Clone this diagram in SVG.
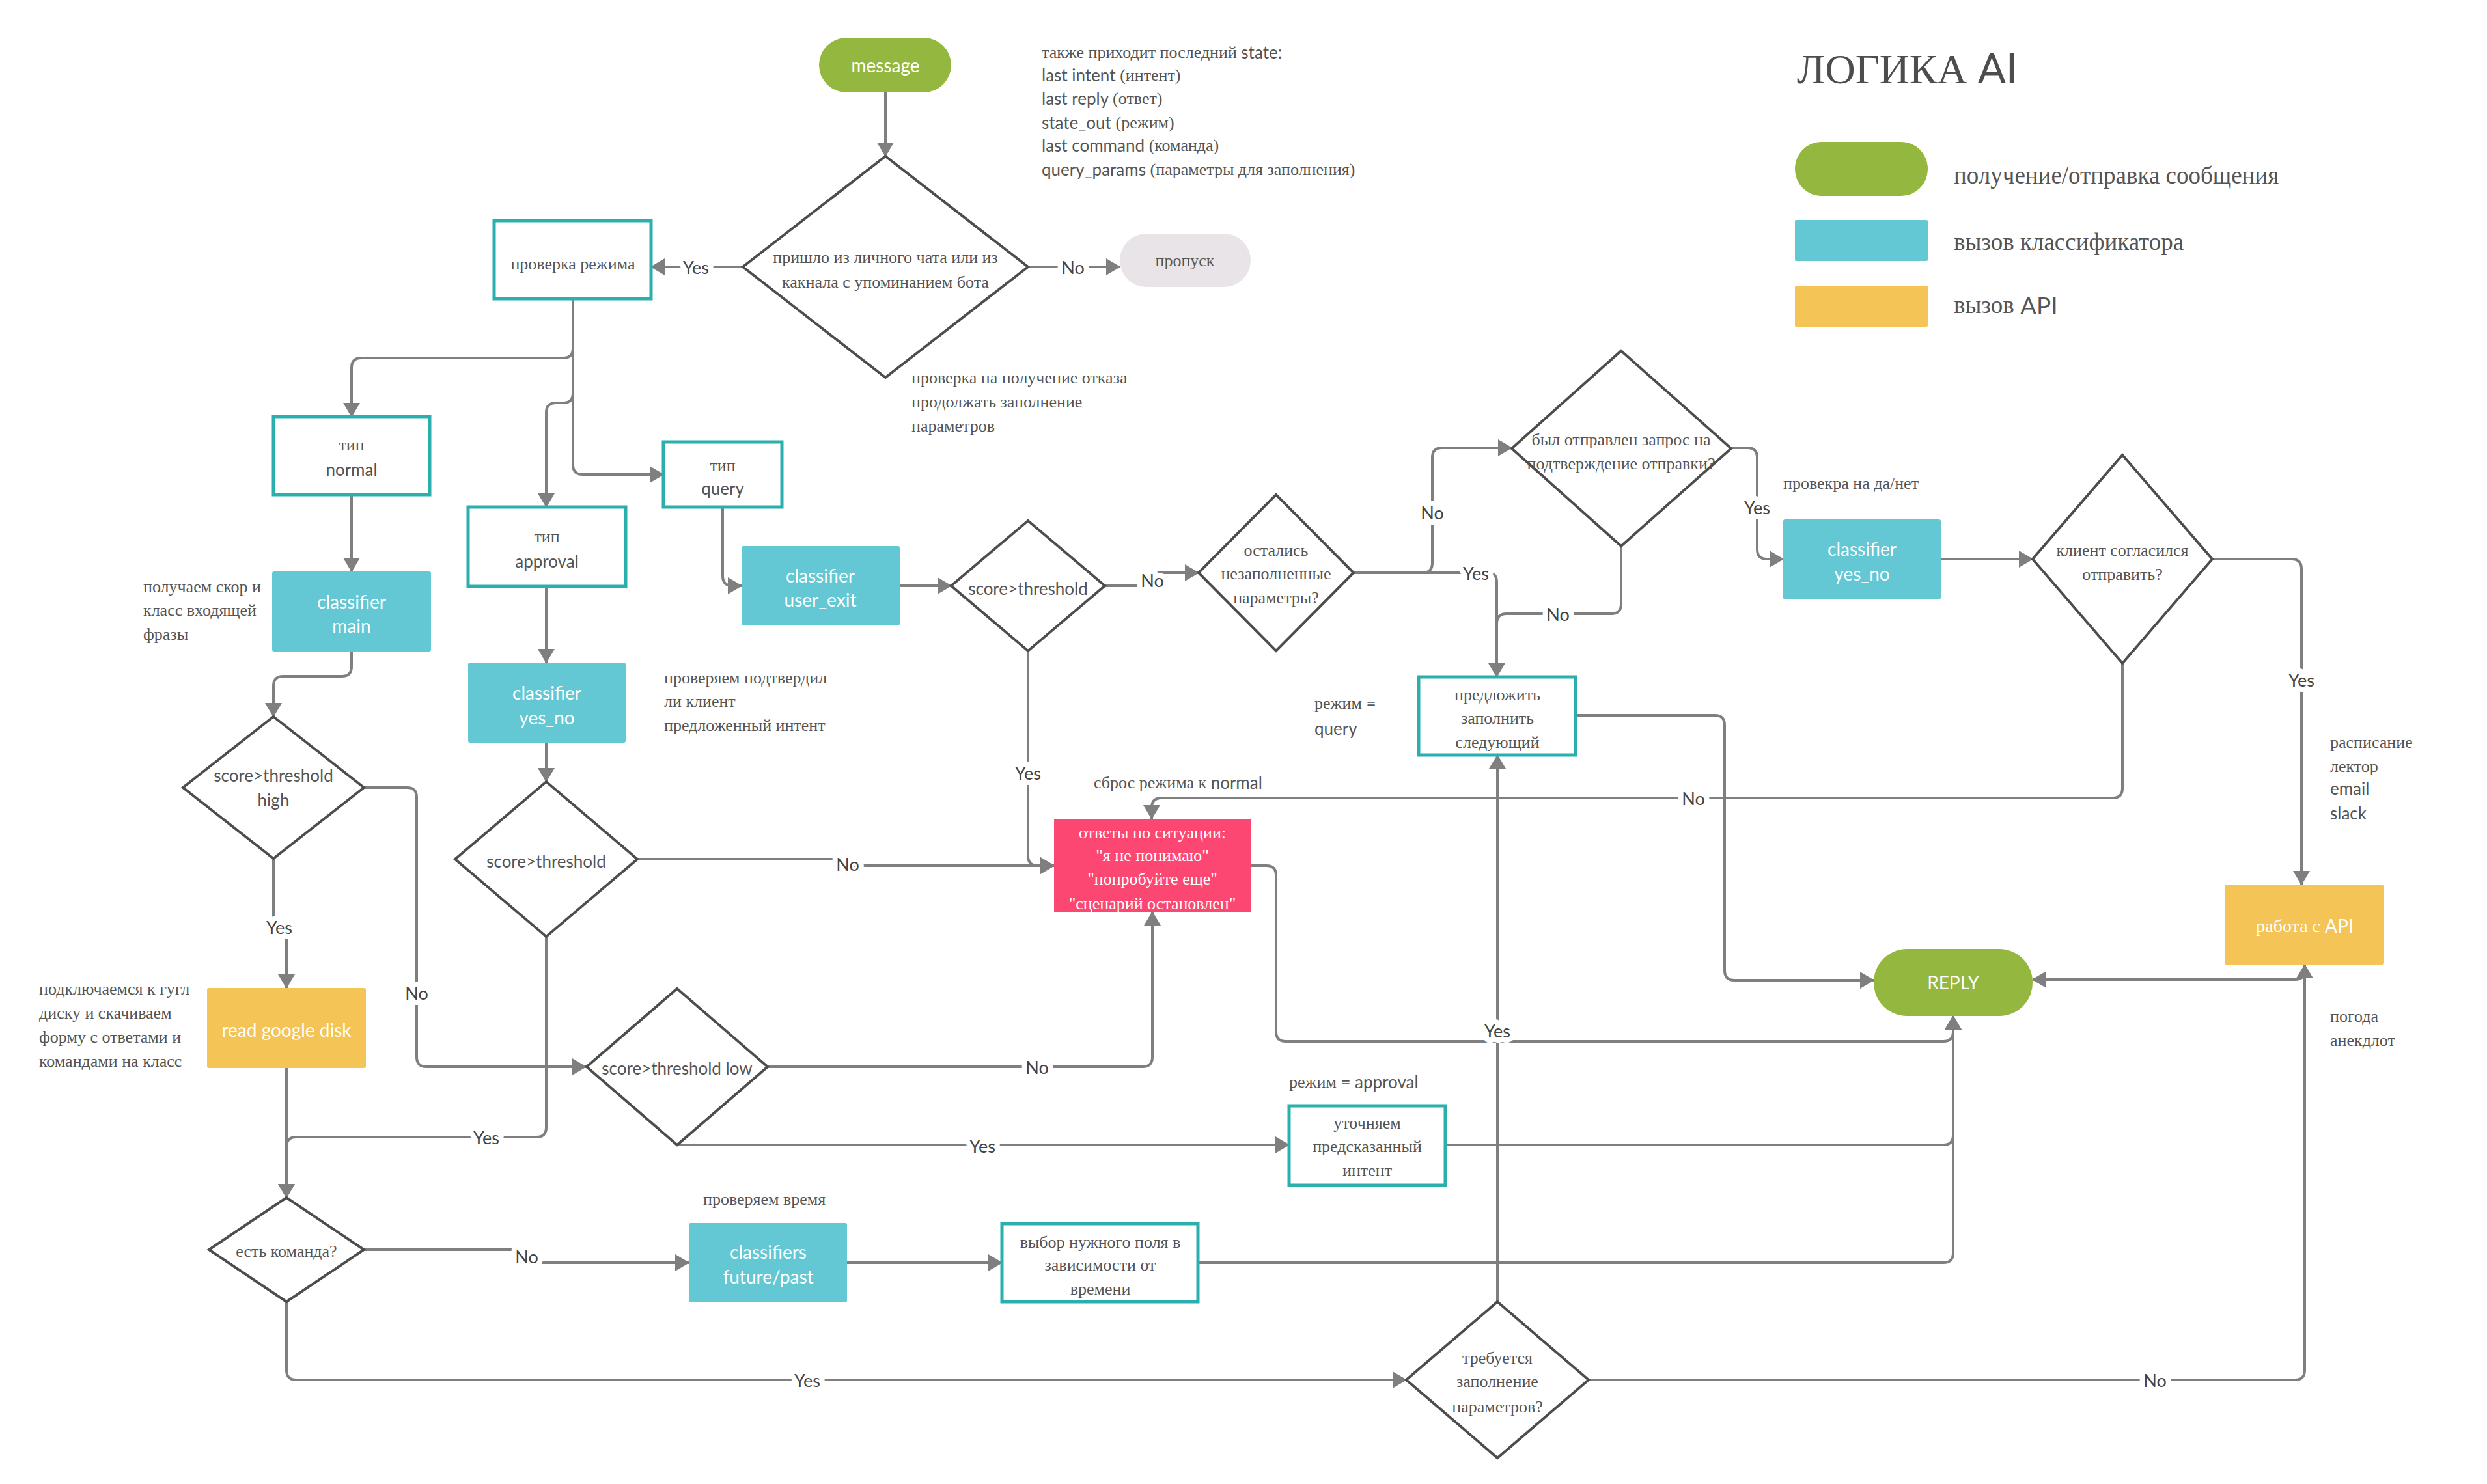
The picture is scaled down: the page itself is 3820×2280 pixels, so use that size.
<svg xmlns="http://www.w3.org/2000/svg" width="3820" height="2280" viewBox="0 0 3820 2280">
<defs>
<style>
.ln{fill:none;stroke:#7f7f7f;stroke-width:4;stroke-linejoin:round}
.ar{marker-end:url(#ah)}
.dia{fill:#fff;stroke:#4d4d4d;stroke-width:4;stroke-linejoin:miter}
.box{fill:#fff;stroke:#2aafad;stroke-width:5}
.cls{fill:#63c8d4}
.api{fill:#f4c456}
.grn{fill:#93b73f}
.red{fill:#fb4771}
.skip{fill:#e8e4e8}
.se{font-family:"Liberation Serif","Times New Roman",serif}
.sa{font-family:Lato,"Liberation Sans",sans-serif}
.t{font-size:26px;fill:#555;text-anchor:middle;dominant-baseline:central}
.tl{font-size:26px;fill:#555;dominant-baseline:central}
.w{font-size:28px;fill:#fff;text-anchor:middle;dominant-baseline:central}
.lbl{font-family:Lato,"Liberation Sans",sans-serif;font-size:27px;fill:#444;text-anchor:middle;dominant-baseline:central;paint-order:stroke;stroke:#fff;stroke-width:16px;stroke-linejoin:round}
.lg{font-size:37px;fill:#555;dominant-baseline:central}
</style>
<marker id="ah" markerUnits="userSpaceOnUse" markerWidth="22" markerHeight="26" refX="21" refY="13" orient="auto">
<path d="M0,0 L22,13 L0,26 z" fill="#7f7f7f"/>
</marker>
</defs>
<rect width="3820" height="2280" fill="#fff"/>

<g id="connectors">
<path class="ln ar" d="M1360,142 V240"/>
<path class="ln ar" d="M1141,410 H1000"/>
<path class="ln ar" d="M1579,410 H1720"/>
<path class="ln ar" d="M880,459 V535 Q880,550 865,550 H555 Q540,550 540,565 V640"/>
<path class="ln ar" d="M880,459 V604 Q880,619 865,619 H854 Q839,619 839,634 V779"/>
<path class="ln ar" d="M880,459 V714 Q880,729 895,729 H1019"/>
<path class="ln ar" d="M540,760 V878"/>
<path class="ln ar" d="M540,1001 V1024 Q540,1039 525,1039 H435 Q420,1039 420,1054 V1101"/>
<path class="ln ar" d="M420,1319 V1418 Q420,1424 426,1424 H434 Q440,1424 440,1430 V1518"/>
<path class="ln ar" d="M558,1210 H625 Q640,1210 640,1225 V1624 Q640,1639 655,1639 H900"/>
<path class="ln ar" d="M839,901 V1018"/>
<path class="ln ar" d="M839,1141 V1201"/>
<path class="ln ar" d="M979,1320 H1300 V1330 H1619"/>
<path class="ln ar" d="M839,1439 V1732 Q839,1747 824,1747 H455 Q440,1747 440,1762 V1840"/>
<path class="ln ar" d="M440,1641 V1840"/>
<path class="ln ar" d="M1110,779 V885 Q1110,900 1125,900 H1139"/>
<path class="ln ar" d="M1382,900 H1461"/>
<path class="ln ar" d="M1698,900 H1770 V880 H1841"/>
<path class="ln ar" d="M1579,999 V1315 Q1579,1330 1594,1330 H1619"/>
<path class="ln ar" d="M2079,880 H2185 Q2200,880 2200,865 V703 Q2200,688 2215,688 H2322"/>
<path class="ln ar" d="M2079,880 H2285 Q2299,880 2299,894 V1040"/>
<path class="ln" d="M2490,839 V928 Q2490,943 2475,943 H2314 Q2299,943 2299,958"/>
<path class="ln ar" d="M2659,688 H2684 Q2699,688 2699,703 V844 Q2699,859 2714,859 H2739"/>
<path class="ln ar" d="M2981,859 H3122"/>
<path class="ln ar" d="M3399,859 H3520 Q3535,859 3535,874 V1359"/>
<path class="ln ar" d="M3260,1019 V1211 Q3260,1226 3245,1226 H1784 Q1769,1226 1769,1241 V1258"/>
<path class="ln ar" d="M2420,1099 H2634 Q2649,1099 2649,1114 V1491 Q2649,1506 2664,1506 H2878"/>
<path class="ln ar" d="M3540,1482 V1490 Q3540,1505 3525,1505 H3122"/>
<path class="ln ar" d="M1921,1330 H1945 Q1960,1330 1960,1345 V1585 Q1960,1600 1975,1600 H2985 Q3000,1600 3000,1585 V1561"/>
<path class="ln ar" d="M2220,1759 H2985 Q3000,1759 3000,1744 V1561"/>
<path class="ln ar" d="M1840,1940 H2985 Q3000,1940 3000,1925 V1561"/>
<path class="ln ar" d="M1178,1639 H1755 Q1770,1639 1770,1624 V1401"/>
<path class="ln ar" d="M1040,1759 H1980"/>
<path class="ln ar" d="M558,1920 H800 V1940 H1058"/>
<path class="ln ar" d="M440,2000 V2105 Q440,2120 455,2120 H2160"/>
<path class="ln ar" d="M1301,1940 H1539"/>
<path class="ln ar" d="M2300,2000 V1160"/>
<path class="ln ar" d="M2439,2120 H3525 Q3540,2120 3540,2105 V1482"/>

<text class="lbl" x="1069" y="410">Yes</text>
<text class="lbl" x="1648" y="410">No</text>
<text class="lbl" x="429" y="1424">Yes</text>
<text class="lbl" x="640" y="1525">No</text>
<text class="lbl" x="1302" y="1327">No</text>
<text class="lbl" x="747" y="1747">Yes</text>
<text class="lbl" x="1770" y="891">No</text>
<text class="lbl" x="1579" y="1187">Yes</text>
<text class="lbl" x="2200" y="787">No</text>
<text class="lbl" x="2267" y="880">Yes</text>
<text class="lbl" x="2393" y="943">No</text>
<text class="lbl" x="2699" y="779">Yes</text>
<text class="lbl" x="3535" y="1044">Yes</text>
<text class="lbl" x="2601" y="1226">No</text>
<text class="lbl" x="1593" y="1639">No</text>
<text class="lbl" x="1509" y="1760">Yes</text>
<text class="lbl" x="809" y="1930">No</text>
<text class="lbl" x="1240" y="2120">Yes</text>
<text class="lbl" x="2300" y="1583">Yes</text>
<text class="lbl" x="3310" y="2120">No</text>
</g>

<g id="message">
<rect class="grn" x="1258" y="58" width="203" height="84" rx="42"/>
<text class="sa w" x="1360" y="100">message</text>
</g>
<g id="check-source">
<polygon class="dia" points="1360,240 1579,410 1360,580 1141,410"/>
<text class="se t" x="1360" y="395">пришло из личного чата или из</text>
<text class="se t" x="1360" y="433">какнала с упоминанием бота</text>
</g>
<g id="skip">
<rect class="skip" x="1720" y="359" width="201" height="82" rx="41"/>
<text class="se t" x="1820" y="400">пропуск</text>
</g>
<g id="check-mode">
<rect class="box" x="759" y="339" width="241" height="120"/>
<text class="se t" x="880" y="405">проверка режима</text>
</g>
<g id="type-normal">
<rect class="box" x="420" y="640" width="240" height="120"/>
<text class="se t" x="540" y="683">тип</text>
<text class="sa t" x="540" y="721">normal</text>
</g>
<g id="type-approval">
<rect class="box" x="719" y="779" width="242" height="122"/>
<text class="se t" x="840" y="824">тип</text>
<text class="sa t" x="840" y="862">approval</text>
</g>
<g id="type-query">
<rect class="box" x="1019" y="679" width="182" height="100"/>
<text class="se t" x="1110" y="715">тип</text>
<text class="sa t" x="1110" y="750">query</text>
</g>
<g id="classifier-main">
<rect class="cls" x="418" y="878" width="244" height="123" rx="3"/>
<text class="sa w" x="540" y="924">classifier</text>
<text class="sa w" x="540" y="961">main</text>
</g>
<g id="classifier-yes-no-1">
<rect class="cls" x="719" y="1018" width="242" height="123" rx="3"/>
<text class="sa w" x="840" y="1064">classifier</text>
<text class="sa w" x="840" y="1102">yes_no</text>
</g>
<g id="classifier-user-exit">
<rect class="cls" x="1139" y="839" width="243" height="122" rx="3"/>
<text class="sa w" x="1260" y="884">classifier</text>
<text class="sa w" x="1260" y="921">user_exit</text>
</g>
<g id="score-high">
<polygon class="dia" points="420,1101 559,1210 420,1319 281,1210"/>
<text class="sa t" x="420" y="1191">score&gt;threshold</text>
<text class="sa t" x="420" y="1229">high</text>
</g>
<g id="score-approval">
<polygon class="dia" points="839,1201 979,1320 839,1439 699,1320"/>
<text class="sa t" x="839" y="1323">score&gt;threshold</text>
</g>
<g id="score-user-exit">
<polygon class="dia" points="1579,800 1697,900 1579,1000 1461,900"/>
<text class="sa t" x="1579" y="904">score&gt;threshold</text>
</g>
<g id="params-left">
<polygon class="dia" points="1960,760 2079,880 1960,1000 1841,880"/>
<text class="se t" x="1960" y="845">остались</text>
<text class="se t" x="1960" y="881">незаполненные</text>
<text class="se t" x="1960" y="918">параметры?</text>
</g>
<g id="confirm-sent">
<polygon class="dia" points="2490,539 2659,689 2490,839 2322,689"/>
<text class="se t" x="2490" y="675">был отправлен запрос на</text>
<text class="se t" x="2490" y="712">подтверждение отправки?</text>
</g>
<g id="classifier-yes-no-2">
<rect class="cls" x="2739" y="798" width="242" height="123" rx="3"/>
<text class="sa w" x="2860" y="843">classifier</text>
<text class="sa w" x="2860" y="881">yes_no</text>
</g>
<g id="client-agreed">
<polygon class="dia" points="3260,699 3398,859 3260,1019 3122,859"/>
<text class="se t" x="3260" y="845">клиент согласился</text>
<text class="se t" x="3260" y="882">отправить?</text>
</g>
<g id="api">
<rect class="api" x="3417" y="1359" width="245" height="123" rx="3"/>
<text class="w" x="3540" y="1422"><tspan class="se">работа с </tspan><tspan class="sa">API</tspan></text>
</g>
<g id="reply">
<rect class="grn" x="2878" y="1458" width="244" height="103" rx="51"/>
<text class="sa w" x="3000" y="1509">REPLY</text>
</g>
<g id="answers">
<rect class="red" x="1619" y="1258" width="302" height="143"/>
<text class="se w" x="1770" y="1279" style="font-size:26px">ответы по ситуации:</text>
<text class="se w" x="1770" y="1314" style="font-size:26px">"я не понимаю"</text>
<text class="se w" x="1770" y="1350" style="font-size:26px">"попробуйте еще"</text>
<text class="se w" x="1770" y="1388" style="font-size:26px">"сценарий остановлен"</text>
</g>
<g id="offer-next">
<rect class="box" x="2179" y="1040" width="241" height="120"/>
<text class="se t" x="2300" y="1067">предложить</text>
<text class="se t" x="2300" y="1103">заполнить</text>
<text class="se t" x="2300" y="1140">следующий</text>
</g>
<g id="read-google-disk">
<rect class="api" x="318" y="1518" width="244" height="123" rx="3"/>
<text class="sa w" x="440" y="1582">read google disk</text>
</g>
<g id="has-command">
<polygon class="dia" points="440,1840 559,1920 440,2000 321,1920"/>
<text class="se t" x="440" y="1922">есть команда?</text>
</g>
<g id="score-low">
<polygon class="dia" points="1040,1519 1179,1639 1040,1759 901,1639"/>
<text class="sa t" x="1040" y="1641">score&gt;threshold low</text>
</g>
<g id="clarify-intent">
<rect class="box" x="1980" y="1699" width="240" height="122"/>
<text class="se t" x="2100" y="1725">уточняем</text>
<text class="se t" x="2100" y="1761">предсказанный</text>
<text class="se t" x="2100" y="1798">интент</text>
</g>
<g id="classifiers-future-past">
<rect class="cls" x="1058" y="1879" width="243" height="122" rx="3"/>
<text class="sa w" x="1180" y="1923">classifiers</text>
<text class="sa w" x="1180" y="1961">future/past</text>
</g>
<g id="choose-field">
<rect class="box" x="1539" y="1880" width="301" height="120"/>
<text class="se t" x="1690" y="1908">выбор нужного поля в</text>
<text class="se t" x="1690" y="1943">зависимости от</text>
<text class="se t" x="1690" y="1980">времени</text>
</g>
<g id="params-required">
<polygon class="dia" points="2300,2000 2440,2120 2300,2240 2160,2120"/>
<text class="se t" x="2300" y="2086">требуется</text>
<text class="se t" x="2300" y="2122">заполнение</text>
<text class="se t" x="2300" y="2161">параметров?</text>
</g>

<g id="notes">
<text class="tl" x="1600" y="80"><tspan class="se">также приходит последний </tspan><tspan class="sa">state:</tspan></text>
<text class="tl" x="1600" y="115"><tspan class="sa">last intent </tspan><tspan class="se">(интент)</tspan></text>
<text class="tl" x="1600" y="151"><tspan class="sa">last reply </tspan><tspan class="se">(ответ)</tspan></text>
<text class="tl" x="1600" y="188"><tspan class="sa">state_out </tspan><tspan class="se">(режим)</tspan></text>
<text class="tl" x="1600" y="223"><tspan class="sa">last command </tspan><tspan class="se">(команда)</tspan></text>
<text class="tl" x="1600" y="260"><tspan class="sa">query_params </tspan><tspan class="se">(параметры для заполнения)</tspan></text>
<text class="se tl" x="1400" y="580">проверка на получение отказа</text>
<text class="se tl" x="1400" y="617">продолжать заполнение</text>
<text class="se tl" x="1400" y="654">параметров</text>
<text class="se tl" x="220" y="901">получаем скор и</text>
<text class="se tl" x="220" y="937">класс входящей</text>
<text class="se tl" x="220" y="974">фразы</text>
<text class="se tl" x="1020" y="1041">проверяем подтвердил</text>
<text class="se tl" x="1020" y="1077">ли клиент</text>
<text class="se tl" x="1020" y="1114">предложенный интент</text>
<text class="se tl" x="60" y="1519">подключаемся к гугл</text>
<text class="se tl" x="60" y="1556">диску и скачиваем</text>
<text class="se tl" x="60" y="1593">форму с ответами и</text>
<text class="se tl" x="60" y="1630">командами на класс</text>
<text class="tl" x="1680" y="1202"><tspan class="se">сброс режима к </tspan><tspan class="sa">normal</tspan></text>
<text class="tl" x="2019" y="1080"><tspan class="se">режим </tspan><tspan class="sa">=</tspan></text>
<text class="sa tl" x="2019" y="1119">query</text>
<text class="se tl" x="2739" y="742">провекра на да/нет</text>
<text class="se tl" x="3579" y="1140">расписание</text>
<text class="se tl" x="3579" y="1177">лектор</text>
<text class="sa tl" x="3579" y="1211">email</text>
<text class="sa tl" x="3579" y="1249">slack</text>
<text class="se tl" x="3579" y="1561">погода</text>
<text class="se tl" x="3579" y="1598">анекдлот</text>
<text class="tl" x="1980" y="1662"><tspan class="se">режим </tspan><tspan class="sa">= approval</tspan></text>
<text class="se tl" x="1080" y="1842">проверяем время</text>
</g>

<g id="legend">
<text x="2760" y="128" style="font-size:64px;fill:#4d4d4d"><tspan class="se">ЛОГИКА </tspan><tspan class="sa">AI</tspan></text>
<rect class="grn" x="2757" y="218" width="204" height="83" rx="41"/>
<rect class="cls" x="2757" y="338" width="204" height="63" rx="2"/>
<rect class="api" x="2757" y="439" width="204" height="63" rx="2"/>
<text class="se lg" x="3001" y="269">получение/отправка сообщения</text>
<text class="se lg" x="3001" y="371">вызов классификатора</text>
<text class="lg" x="3001" y="468"><tspan class="se">вызов </tspan><tspan class="sa">API</tspan></text>
</g>
</svg>
